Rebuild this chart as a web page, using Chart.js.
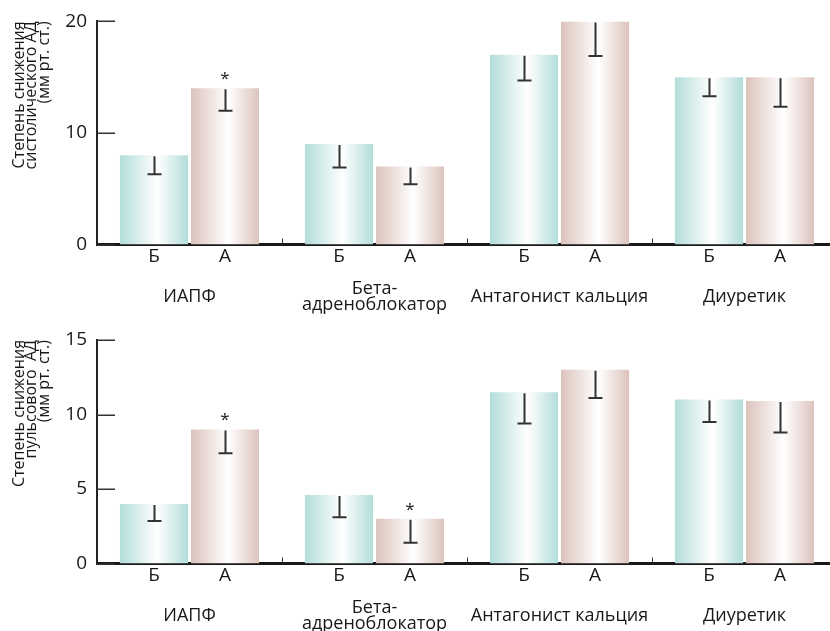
<!DOCTYPE html>
<html lang="ru">
<head>
<meta charset="utf-8">
<script src="https://cdn.jsdelivr.net/npm/chart.js@4/dist/chart.umd.min.js"></script>
<style>
  html, body { margin: 0; padding: 0; background: #fff; overflow: hidden; }
  #wrap { width: 830px; height: 631px; overflow: hidden; position: relative; }
  canvas { display: block; position: absolute; left: 0; }
  #sys { top: 0; }
  #pulse { top: 310px; }
</style>
</head>
<body>
<div id="wrap">
  <canvas id="sys" width="840" height="320"></canvas>
  <canvas id="pulse" width="840" height="321"></canvas>
</div>
<script>
// Drug classes (x categories) and the two bars in each: Б (before) and А (after)
const categories = ['ИАПФ', ['Бета-', 'адреноблокатор'], 'Антагонист кальция', 'Диуретик'];
const barLabels = ['Б', 'А'];

// Systolic BP reduction, mm Hg, and the lower error arm
const sysBefore    = [8, 9, 17, 15];
const sysBeforeErr = [1.7, 2.1, 2.3, 1.7];
const sysAfter     = [14, 7, 20, 15];
const sysAfterErr  = [2.0, 1.6, 3.1, 2.65];
const sysAfterStar = [true, false, false, false];

// Pulse BP reduction, mm Hg, and the lower error arm
const pulseBefore    = [4, 4.6, 11.5, 11];
const pulseBeforeErr = [1.15, 1.5, 2.1, 1.5];
const pulseAfter     = [9, 3, 13, 10.9];
const pulseAfterErr  = [1.6, 1.6, 1.9, 2.1];
const pulseAfterStar = [true, true, false, false];

const sysTicks = [0, 10, 20];
const pulseTicks = [0, 5, 10, 15];

const FONT = '"Open Sans", "Noto Sans", sans-serif';
const INK = '#1a1718';
const TEAL = '#b3ddd9';
const ROSE = '#dcc3bc';

// Horizontal edge-to-white-to-edge shading across each bar
function barFill(edge) {
  return (ctx) => {
    const el = ctx.element;
    if (!el || !isFinite(el.x) || !el.width) return edge;
    const g = ctx.chart.ctx.createLinearGradient(el.x - el.width / 2, 0, el.x + el.width / 2, 0);
    g.addColorStop(0, edge);
    g.addColorStop(0.55, '#ffffff');
    g.addColorStop(1, edge);
    return g;
  };
}

// Error arms (downward only), significance asterisks, Б/А labels and inner tick marks
const decorations = {
  id: 'decorations',
  afterDatasetsDraw(chart) {
    const { ctx, chartArea } = chart;
    const xs = chart.scales.x, ys = chart.scales.y;
    ctx.save();

    // y ticks pointing inward from the axis
    ctx.strokeStyle = '#333';
    ctx.lineWidth = 1.5;
    ys.ticks.forEach(t => {
      const y = Math.round(ys.getPixelForValue(t.value)) + 0.25;
      ctx.beginPath();
      ctx.moveTo(chartArea.left, y);
      ctx.lineTo(chartArea.left + 18, y);
      ctx.stroke();
    });

    // short marks between drug groups
    ctx.lineWidth = 1;
    for (let i = 0; i < xs.ticks.length - 1; i++) {
      const x = Math.round((xs.getPixelForTick(i) + xs.getPixelForTick(i + 1)) / 2) + 0.5;
      ctx.beginPath();
      ctx.moveTo(x, chartArea.bottom - 1);
      ctx.lineTo(x, chartArea.bottom - 6);
      ctx.stroke();
    }

    chart.data.datasets.forEach((ds, di) => {
      const meta = chart.getDatasetMeta(di);
      meta.data.forEach((bar, i) => {
        const v = ds.data[i];
        const yTop = ys.getPixelForValue(v);
        const yBot = ys.getPixelForValue(v - ds.errors[i]);
        const x = Math.round(bar.x) + 0.5;
        ctx.strokeStyle = '#333';
        ctx.lineWidth = 2;
        ctx.beginPath();
        ctx.moveTo(x, yTop + 1);
        ctx.lineTo(x, yBot);
        ctx.moveTo(x - 7, yBot);
        ctx.lineTo(x + 7, yBot);
        ctx.stroke();

        if (ds.stars && ds.stars[i]) {
          ctx.fillStyle = INK;
          ctx.font = '17px ' + FONT;
          ctx.textAlign = 'center';
          ctx.textBaseline = 'alphabetic';
          ctx.fillText('*', bar.x, yTop - 4);
        }

        ctx.fillStyle = INK;
        ctx.font = '19px ' + FONT;
        ctx.textAlign = 'center';
        ctx.textBaseline = 'middle';
        ctx.fillText(barLabels[di], bar.x, chartArea.bottom + 12);
      });
    });
    ctx.restore();
  }
};

function makeChart(id, title, before, beforeErr, after, afterErr, stars, ticks, max, padTop, bottomPx, canvasH) {
  const chart = new Chart(document.getElementById(id), {
    type: 'bar',
    data: {
      labels: categories,
      datasets: [
        { label: barLabels[0], data: before, errors: beforeErr, backgroundColor: barFill(TEAL) },
        { label: barLabels[1], data: after, errors: afterErr, stars: stars, backgroundColor: barFill(ROSE) }
      ]
    },
    options: {
      responsive: false,
      animation: false,
      events: [],
      layout: { padding: { top: padTop, right: 3, bottom: 0, left: 0 } },
      datasets: { bar: { categoryPercentage: 0.768, barPercentage: 0.958, borderWidth: 0 } },
      plugins: { legend: { display: false }, tooltip: { enabled: false } },
      scales: {
        x: {
          grid: { display: false, drawTicks: false },
          border: { color: '#1a1a1a', width: 3 },
          ticks: {
            color: INK,
            font: { family: FONT, size: 18, lineHeight: '16.5px' },
            padding: 44,
            maxRotation: 0,
            autoSkip: false,
            crossAlign: 'center'
          },
          afterFit(scale) { scale.height = canvasH - bottomPx; }
        },
        y: {
          min: 0,
          max: max,
          afterBuildTicks(scale) { scale.ticks = ticks.map(v => ({ value: v })); },
          grid: { display: false, drawTicks: false },
          border: { color: '#222', width: 2 },
          ticks: {
            color: INK,
            font: { family: FONT, size: 19 },
            padding: 10
          },
          title: {
            display: true,
            text: title,
            align: 'end',
            color: INK,
            font: { family: FONT, size: 16, lineHeight: '12.5px' },
            padding: { top: 13, bottom: 0 }
          },
          afterFit(scale) { scale.width = 97; }
        }
      }
    },
    plugins: [decorations]
  });
  // second pass so the bar shading can use the laid-out bar geometry
  chart.update('none');
  return chart;
}

makeChart('sys', ['Степень снижения', 'систолического АД', '(мм рт. ст.)'],
  sysBefore, sysBeforeErr, sysAfter, sysAfterErr, sysAfterStar, sysTicks, 20, 20, 244.5, 320);
makeChart('pulse', ['Степень снижения', 'пульсового  АД', '(мм рт. ст.)'],
  pulseBefore, pulseBeforeErr, pulseAfter, pulseAfterErr, pulseAfterStar, pulseTicks, 15, 30, 253.5, 321);
</script>
</body>
</html>
